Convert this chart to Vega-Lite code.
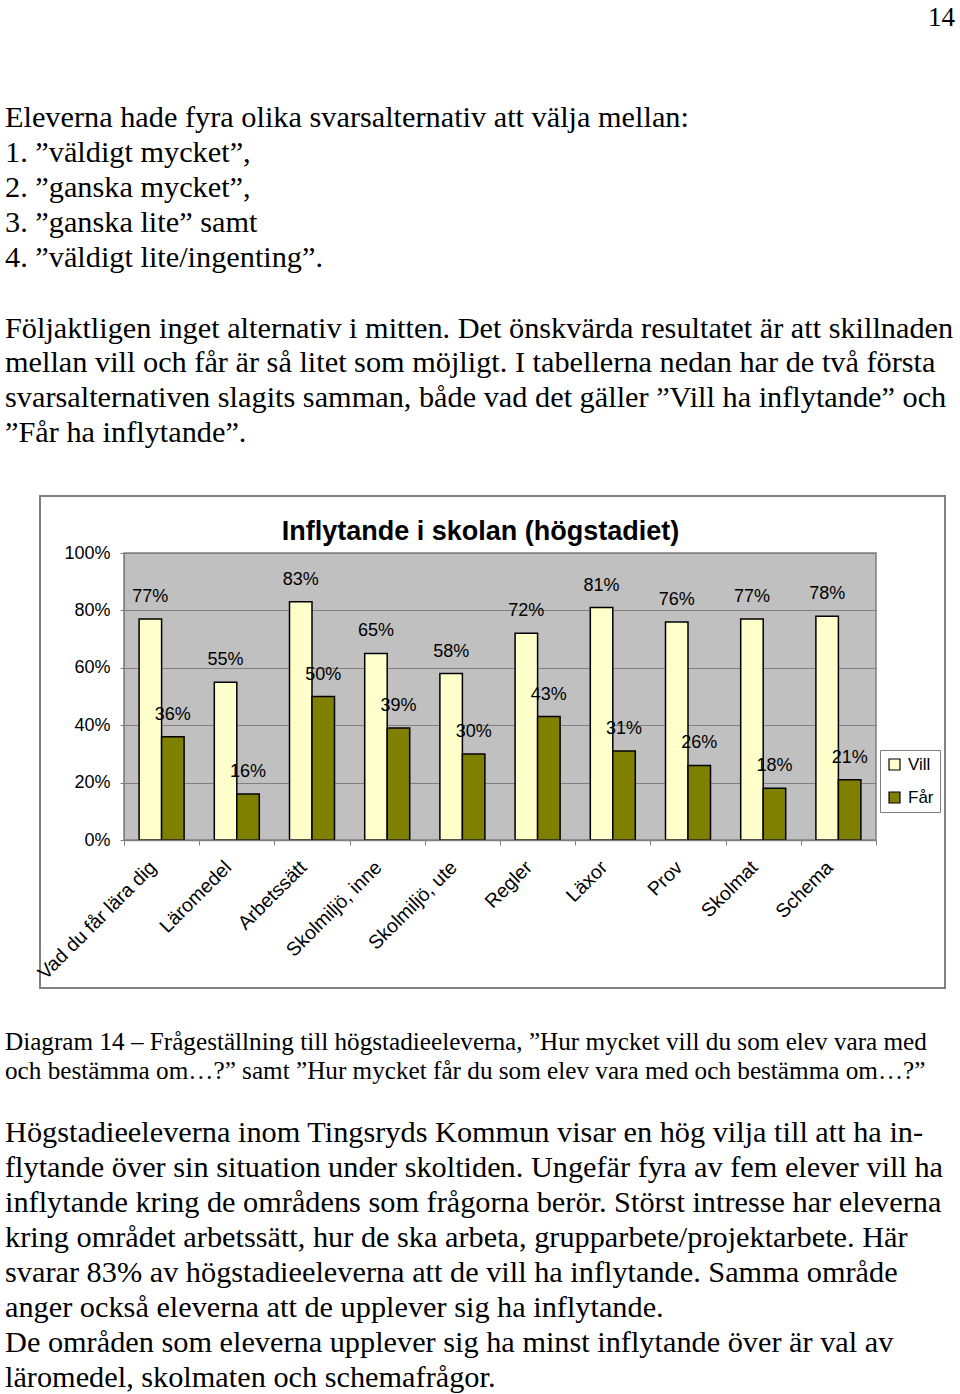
{
  "$schema": "https://vega.github.io/schema/vega-lite/v6.json",
  "padding": {"left": 5, "top": 0, "right": 5, "bottom": 0},
  "spacing": 0,
  "resolve": {"legend": {"color": "independent"}},
  "config": {
    "view": {"stroke": null},
    "concat": {"spacing": 0},
    "title": {"font": "Liberation Serif", "fontWeight": "normal", "color": "black", "offset": 0}
  },
  "datasets": {
    "bars": [
      {"cat": "Vad du får lära dig", "serie": "Vill", "value": 0.77},
      {"cat": "Vad du får lära dig", "serie": "Får", "value": 0.36},
      {"cat": "Läromedel", "serie": "Vill", "value": 0.55},
      {"cat": "Läromedel", "serie": "Får", "value": 0.16},
      {"cat": "Arbetssätt", "serie": "Vill", "value": 0.83},
      {"cat": "Arbetssätt", "serie": "Får", "value": 0.50},
      {"cat": "Skolmiljö, inne", "serie": "Vill", "value": 0.65},
      {"cat": "Skolmiljö, inne", "serie": "Får", "value": 0.39},
      {"cat": "Skolmiljö, ute", "serie": "Vill", "value": 0.58},
      {"cat": "Skolmiljö, ute", "serie": "Får", "value": 0.30},
      {"cat": "Regler", "serie": "Vill", "value": 0.72},
      {"cat": "Regler", "serie": "Får", "value": 0.43},
      {"cat": "Läxor", "serie": "Vill", "value": 0.81},
      {"cat": "Läxor", "serie": "Får", "value": 0.31},
      {"cat": "Prov", "serie": "Vill", "value": 0.76},
      {"cat": "Prov", "serie": "Får", "value": 0.26},
      {"cat": "Skolmat", "serie": "Vill", "value": 0.77},
      {"cat": "Skolmat", "serie": "Får", "value": 0.18},
      {"cat": "Schema", "serie": "Vill", "value": 0.78},
      {"cat": "Schema", "serie": "Får", "value": 0.21}
    ]
  },
  "vconcat": [
    {
      "width": 831, "height": 1,
      "data": {"values": []}, "mark": "text", "encoding": {},
      "title": {"text": "14", "orient": "bottom", "anchor": "end", "fontSize": 27}
    },
    {
      "width": 831, "height": 68.4,
      "data": {"values": []}, "mark": "text", "encoding": {},
      "title": {
        "text": [
          "Eleverna hade fyra olika svarsalternativ att välja mellan:",
          "1. ”väldigt mycket”,",
          "2. ”ganska mycket”,",
          "3. ”ganska lite” samt",
          "4. ”väldigt lite/ingenting”."
        ],
        "orient": "bottom", "anchor": "start", "dx": -119, "fontSize": 30.3, "lineHeight": 34.8
      }
    },
    {
      "width": 831, "height": 36.5,
      "data": {"values": []}, "mark": "text", "encoding": {},
      "title": {
        "text": [
          "Följaktligen inget alternativ i mitten. Det önskvärda resultatet är att skillnaden",
          "mellan vill och får är så litet som möjligt. I tabellerna nedan har de två första",
          "svarsalternativen slagits samman, både vad det gäller ”Vill ha inflytande” och",
          "”Får ha inflytande”."
        ],
        "orient": "bottom", "anchor": "start", "dx": -119, "fontSize": 30.3, "lineHeight": 34.8
      }
    },
    {
      "width": 752, "height": 44.15,
      "data": {"values": []}, "mark": "text", "encoding": {}
    },
    {
      "width": 752, "height": 287,
      "data": {"name": "bars"},
      "view": {"fill": "#c0c0c0", "stroke": "#808080", "strokeWidth": 1.5},
      "title": {
        "text": "Inflytande i skolan (högstadiet)",
        "font": "Liberation Sans", "fontSize": 27, "fontWeight": "bold",
        "frame": "group", "anchor": "middle", "dx": -19.5, "offset": -50.4
      },
      "encoding": {
        "x": {
          "field": "cat", "type": "nominal", "title": null,
          "scale": {"domain": ["Vad du får lära dig", "Läromedel", "Arbetssätt", "Skolmiljö, inne", "Skolmiljö, ute", "Regler", "Läxor", "Prov", "Skolmat", "Schema"], "paddingInner": 0, "paddingOuter": 0},
          "axis": {
            "labelAngle": -45, "labelAlign": "right", "labelBaseline": "middle",
            "labelOffset": -9, "labelPadding": 19, "labelFont": "Liberation Sans", "labelFontSize": 19.5,
            "labelColor": "black", "labelLimit": 0, "tickBand": "extent", "tickSize": 5,
            "tickColor": "#808080", "domainColor": "#808080", "domainWidth": 1.5
          }
        },
        "xOffset": {"field": "serie", "type": "nominal", "scale": {"domain": ["Vill", "Får"], "paddingInner": 0, "paddingOuter": 0.671}},
        "y": {
          "field": "value", "type": "quantitative", "title": null,
          "scale": {"domain": [0, 1], "nice": false},
          "axis": {
            "values": [0, 0.2, 0.4, 0.6, 0.8, 1], "format": ".0%",
            "labelFont": "Liberation Sans", "labelFontSize": 18, "labelColor": "black",
            "labelPadding": 10, "tickSize": 4, "tickColor": "#808080",
            "domainColor": "#808080", "gridColor": "#808080", "grid": true
          }
        }
      },
      "layer": [
        {
          "mark": {"type": "rect", "filled": false, "stroke": "#808080", "strokeWidth": 1.5},
          "encoding": {
            "x": {"datum": "Vad du får lära dig", "bandPosition": -1.117},
            "x2": {"datum": "Schema", "bandPosition": 1.918},
            "y": {"datum": 1.1986, "type": "quantitative"},
            "y2": {"datum": -0.5157},
            "xOffset": null
          }
        },
        {
          "mark": {"type": "bar", "stroke": "black", "strokeWidth": 1.5},
          "encoding": {
            "color": {
              "field": "serie", "type": "nominal",
              "scale": {"domain": ["Vill", "Får"], "range": ["#ffffcc", "#808000"]},
              "legend": {
                "title": null, "orient": "none", "legendX": 756, "legendY": 197,
                "strokeColor": "#808080", "padding": 6, "symbolType": "square", "symbolSize": 120,
                "symbolStrokeColor": "black", "symbolStrokeWidth": 1.2, "labelFont": "Liberation Sans",
                "labelFontSize": 17, "labelColor": "black", "rowPadding": 15, "labelOffset": 5
              }
            }
          }
        },
        {
          "mark": {"type": "text", "baseline": "alphabetic", "dy": -17, "font": "Liberation Sans", "fontSize": 18, "color": "black"},
          "encoding": {"text": {"field": "value", "type": "quantitative", "format": ".0%"}}
        }
      ]
    },
    {
      "width": 752, "height": 36,
      "data": {"values": []}, "mark": "text", "encoding": {},
      "title": {
        "text": [
          "Diagram 14 – Frågeställning till högstadieeleverna, ”Hur mycket vill du som elev vara med",
          "och bestämma om…?” samt ”Hur mycket får du som elev vara med och bestämma om…?”"
        ],
        "orient": "bottom", "anchor": "start", "dx": -119, "fontSize": 25.2, "lineHeight": 28.7
      }
    },
    {
      "width": 752, "height": 29.7,
      "data": {"values": []}, "mark": "text", "encoding": {},
      "title": {
        "text": [
          "Högstadieeleverna inom Tingsryds Kommun visar en hög vilja till att ha in-",
          "flytande över sin situation under skoltiden. Ungefär fyra av fem elever vill ha",
          "inflytande kring de områdens som frågorna berör. Störst intresse har eleverna",
          "kring området arbetssätt, hur de ska arbeta, grupparbete/projektarbete. Här",
          "svarar 83% av högstadieeleverna att de vill ha inflytande. Samma område",
          "anger också eleverna att de upplever sig ha inflytande.",
          "De områden som eleverna upplever sig ha minst inflytande över är val av",
          "läromedel, skolmaten och schemafrågor."
        ],
        "orient": "bottom", "anchor": "start", "dx": -119, "fontSize": 30.3, "lineHeight": 35
      }
    }
  ]
}
